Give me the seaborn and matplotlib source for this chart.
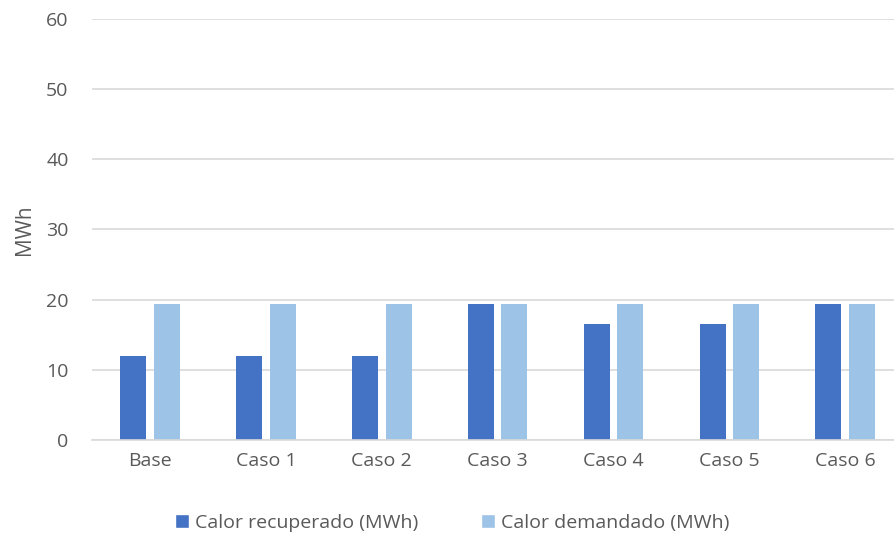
import numpy as np
import pandas as pd
import seaborn as sns
import matplotlib.pyplot as plt
from matplotlib.patches import Patch

# Datos
casos = ['Base', 'Caso 1', 'Caso 2', 'Caso 3', 'Caso 4', 'Caso 5', 'Caso 6']
calor_recuperado = [11.9, 11.9, 11.9, 19.3, 16.5, 16.5, 19.3]
calor_demandado = [19.3, 19.3, 19.3, 19.3, 19.3, 19.3, 19.3]
series = ['Calor recuperado (MWh)', 'Calor demandado (MWh)']
colores = ['#4472C4', '#9DC3E6']

df = pd.DataFrame({
    'caso': casos * 2,
    'valor': calor_recuperado + calor_demandado,
    'serie': [series[0]] * len(casos) + [series[1]] * len(casos),
})

sns.set_style('white')
plt.rcParams['font.family'] = ['Open Sans', 'DejaVu Sans']
texto = '#595959'
fs = 14

fig = plt.figure(figsize=(8.95, 5.39), dpi=100)
# el área del gráfico se sale un poco por la derecha, como en la imagen original
ax = fig.add_axes([0.103, 0.184, 0.906, 0.781])

sns.barplot(data=df, x='caso', y='valor', hue='serie', palette=colores,
            width=0.578, gap=0.224, ax=ax, legend=False, saturation=1,
            linewidth=0)

ax.set_ylim(0, 60)
ax.set_yticks(range(0, 61, 10))
ax.set_xlim(-0.5, len(casos) - 0.5)
ax.grid(axis='y', color='#D9D9D9', linewidth=1.2)
ax.set_axisbelow(True)
for s in ['top', 'right', 'left']:
    ax.spines[s].set_visible(False)
ax.spines['bottom'].set_color('#D9D9D9')
ax.spines['bottom'].set_linewidth(1.2)
ax.tick_params(axis='both', length=0, labelsize=fs, colors=texto)
ax.tick_params(axis='x', pad=9)
ax.tick_params(axis='y', pad=17)
ax.set_xlabel('')
ax.set_ylabel('MWh', fontsize=15, color=texto, labelpad=8)

handles = [Patch(facecolor=c, label=s) for c, s in zip(colores, series)]
fig.legend(handles=handles, loc='center', bbox_to_anchor=(0.505, 0.03), ncol=2,
           frameon=False, fontsize=fs, labelcolor=texto, handlelength=0.75,
           handleheight=0.75, handletextpad=0.3, columnspacing=3.2)

fig.savefig('out.png', dpi=100)
